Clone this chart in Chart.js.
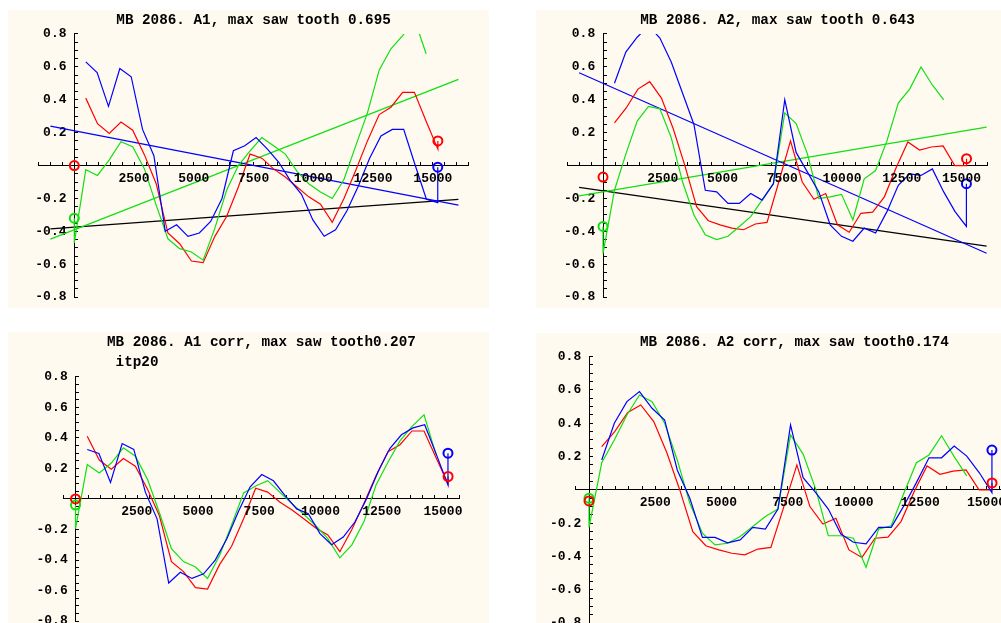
<!DOCTYPE html>
<html>
<head>
<meta charset="utf-8">
<title>MB 2086 saw tooth</title>
<script src="https://cdn.jsdelivr.net/npm/chart.js@4.4.1/dist/chart.umd.min.js"></script>
<style>
  html, body { margin: 0; padding: 0; width: 1001px; height: 623px; overflow: hidden; background: #ffffff; }
  .panel-bg { position: absolute; background: #fffaf0; }
  canvas { position: absolute; }
</style>
</head>
<body>
<div class="panel-bg" style="left:8px;top:10px;width:481px;height:298px"></div>
<div class="panel-bg" style="left:536px;top:10px;width:465px;height:298px"></div>
<div class="panel-bg" style="left:8px;top:332px;width:481px;height:291px"></div>
<div class="panel-bg" style="left:536px;top:333px;width:465px;height:290px"></div>
<canvas id="mb-a1" width="474" height="298" style="left:15px;top:10px"></canvas>
<canvas id="mb-a2" width="450" height="298" style="left:555px;top:10px"></canvas>
<canvas id="mb-a1-corr" width="458" height="300" style="left:31px;top:332px"></canvas>
<canvas id="mb-a2-corr" width="494" height="301" style="left:541px;top:333px"></canvas>
<script>
// ── Data ─────────────────────────────────────────

// sample positions: red/green of A1 sit on gridA, blue and A2 green on gridB
const gridA = [480, 971, 1462, 1953, 2444, 2935, 3426, 3917, 4408, 4899, 5390,
               5881, 6372, 6863, 7354, 7845, 8336, 8827, 9318, 9809, 10300,
               10791, 11282, 11773, 12264, 12755, 13246, 13737, 14228, 14719, 15210];
const gridB = [480, 955, 1430, 1905, 2380, 2855, 3330, 3805, 4280, 4755, 5230,
               5705, 6180, 6655, 7130, 7605, 8080, 8555, 9030, 9505, 9980,
               10455, 10930, 11405, 11880, 12355, 12830, 13305, 13780, 14255, 14730, 15205];

// red reference curve (same in plain and corr panels)
const redA1 = [0.41, 0.255, 0.195, 0.265, 0.215, 0.065, -0.11, -0.41, -0.475, -0.58, -0.59,
               -0.43, -0.31, -0.13, 0.07, 0.045, -0.02, -0.07, -0.13, -0.19, -0.235,
               -0.345, -0.20, -0.03, 0.15, 0.31, 0.355, 0.445, 0.445, 0.27, 0.10];
const redA2 = [0.26, 0.35, 0.465, 0.51, 0.41, 0.225, 0.0, -0.25, -0.335, -0.36, -0.38,
               -0.39, -0.355, -0.345, -0.10, 0.15, -0.10, -0.205, -0.17, -0.36, -0.405,
               -0.29, -0.283, -0.19, -0.013, 0.144, 0.094, 0.113, 0.12, 0.0, 0.0];

const blueA1 = [0.63, 0.565, 0.36, 0.59, 0.54, 0.22, 0.06, -0.40, -0.36, -0.43, -0.41,
                -0.34, -0.20, 0.09, 0.12, 0.17, 0.10, 0.02, -0.09, -0.175, -0.33,
                -0.43, -0.39, -0.275, -0.125, 0.045, 0.18, 0.22, 0.22, 0.005, -0.205, -0.225];
const greenA1 = [-0.025, -0.06, 0.035, 0.145, 0.115, -0.02, -0.24, -0.445, -0.505, -0.525, -0.575,
                 -0.38, -0.15, 0.0, 0.09, 0.17, 0.12, 0.07, -0.035, -0.11, -0.16,
                 -0.20, -0.085, 0.12, 0.32, 0.58, 0.71, 0.79, 0.89, 0.68, null];

const blueA2 = [0.50, 0.69, 0.78, 0.85, 0.775, 0.63, 0.44, 0.25, -0.15, -0.16, -0.23,
                -0.23, -0.17, -0.21, -0.11, 0.40, 0.08, -0.04, -0.16, -0.36, -0.43,
                -0.46, -0.38, -0.41, -0.28, -0.12, -0.05, -0.06, -0.02, -0.16, -0.28, -0.37];
const greenA2 = [-0.15, 0.07, 0.27, 0.36, 0.345, 0.17, -0.10, -0.30, -0.42, -0.45, -0.43,
                 -0.37, -0.31, -0.21, -0.11, 0.32, 0.255, 0.07, -0.20, -0.19, -0.175,
                 -0.33, -0.08, -0.03, 0.15, 0.38, 0.465, 0.60, 0.49, 0.40, null, null];

const blueA1corr = [0.324, 0.298, 0.108, 0.363, 0.324, 0.043, -0.13, -0.55, -0.48, -0.52, -0.49,
                    -0.40, -0.26, -0.08, 0.08, 0.16, 0.119, 0.022, -0.065, -0.097, -0.227,
                    -0.30, -0.249, -0.151, 0.0, 0.18, 0.33, 0.42, 0.465, 0.486, 0.292, 0.091];
const greenA1corr = [0.225, 0.17, 0.235, 0.335, 0.28, 0.13, -0.09, -0.325, -0.41, -0.445, -0.52,
                     -0.37, -0.17, 0.04, 0.085, 0.12, 0.045, -0.03, -0.10, -0.175, -0.26,
                     -0.385, -0.30, -0.15, 0.09, 0.24, 0.38, 0.475, 0.55, 0.29, null];

const blueA2corr = [0.18, 0.40, 0.53, 0.59, 0.49, 0.42, 0.12, -0.05, -0.285, -0.285, -0.318,
                    -0.30, -0.225, -0.235, -0.115, 0.39, 0.074, -0.016, -0.115, -0.265, -0.314,
                    -0.324, -0.225, -0.225, -0.096, 0.044, 0.193, 0.193, 0.263, 0.203, 0.103, -0.016];
const greenA2corr = [0.163, 0.30, 0.45, 0.57, 0.53, 0.40, 0.18, -0.08, -0.26, -0.33, -0.32,
                     -0.28, -0.22, -0.16, -0.115, 0.33, 0.215, 0.005, -0.275, -0.275, -0.29,
                     -0.464, -0.235, -0.215, -0.02, 0.163, 0.21, 0.325, 0.20, 0.084, null, null];

// straight fits in the two top panels (value at each end)
const fitEndsA1  = [-1000, 16070];
const fitBlueA1  = [0.24, -0.24];
const fitGreenA1 = [-0.447, 0.524];
const fitBlackA1 = [-0.385, -0.205];
const fitEndsA2  = [-1000, 16050];
const fitBlueA2  = [0.564, -0.533];
const fitGreenA2 = [-0.184, 0.234];
const fitBlackA2 = [-0.133, -0.49];

// open circles, one entry per panel: A1, A2, A1 corr, A2 corr
const markStartRed   = [0.0, -0.07, 0.0, -0.066];
const markStartGreen = [-0.32, -0.37, -0.04, -0.05];
const spikeGreen     = [-0.47, -0.535, -0.195, -0.225];
const markEndRed     = [0.15, 0.042, 0.147, 0.042];
const markEndBlue    = [-0.01, -0.11, 0.30, 0.239];

const titles = [
  'MB 2086. A1, max saw tooth 0.695',
  'MB 2086. A2, max saw tooth 0.643',
  ['MB 2086. A1 corr, max saw tooth0.207', ' itp20'.padEnd(36)],
  'MB 2086. A2 corr, max saw tooth0.174'
];
const xTickLabels = [2500, 5000, 7500, 10000, 12500, 15000];
// axis ends kept on multiples of 500 so the tick marks fall on round values
const xMin = [-1500, -1500, -500, -500];
const xMax = [16500, 16100, 15680, 16000];

(function () {
  'use strict';

  const MONO  = "'Liberation Mono', 'DejaVu Sans Mono', monospace";
  const RED   = '#ff0000';
  const GREEN = '#10e010';
  const BLUE  = '#0000ff';

  // ── Helpers ──────────────────────────────────────

  function pts(xs, ys) {
    return ys.map((y, i) => ({ x: xs[i], y: y }));
  }

  function curve(data, color) {
    return { data, showLine: true, borderColor: color, borderWidth: 1.2,
             pointRadius: 0, tension: 0, fill: false };
  }

  function marks(data, color) {
    return { data, showLine: false, pointStyle: 'circle', pointRadius: 4.5,
             pointBorderWidth: 2, pointBorderColor: color,
             pointBackgroundColor: 'rgba(0,0,0,0)' };
  }

  // y labels sit right-aligned on the axis line, so keep one space of air
  function yLabel(v) {
    const c = Math.round(v * 100);
    return (c !== 0 && c % 20 === 0) ? (c / 100).toFixed(1) + ' ' : '';
  }

  // x labels go under the y = 0 line, placed through the x scale
  const xAxisText = {
    id: 'xAxisText',
    afterDraw(chart) {
      const xs  = chart.scales.x;
      const ctx = chart.ctx;
      const lineY = chart.scales.y.getPixelForValue(0);
      ctx.save();
      ctx.font = 'bold 13px ' + MONO;
      ctx.fillStyle = '#000';
      ctx.textAlign = 'center';
      ctx.textBaseline = 'middle';
      xTickLabels.forEach(v => {
        if (v >= xs.min && v <= xs.max) {
          ctx.fillText(String(v), xs.getPixelForValue(v), lineY + 13);
        }
      });
      ctx.restore();
    }
  };

  // ── Panels ───────────────────────────────────────

  function buildPanel(p, cfg) {
    const endA = gridA[gridA.length - 1];
    const endB = gridB[gridB.length - 1];

    const datasets = [
      marks([{ x: 0, y: markStartRed[p] }, { x: endA, y: markEndRed[p] }], RED),
      marks([{ x: 0, y: markStartGreen[p] }], GREEN),
      marks([{ x: endB, y: markEndBlue[p] }], BLUE),
      curve(pts(gridB, cfg.blue).concat([{ x: endB, y: markEndBlue[p] }]), BLUE),
      curve([{ x: 0, y: markStartGreen[p] }, { x: 0, y: spikeGreen[p] }]
              .concat(pts(cfg.greenGrid, cfg.green)), GREEN),
      curve(pts(gridA, cfg.red).concat([{ x: endA, y: markEndRed[p] }]), RED)
    ];

    if (cfg.fits) {
      datasets.push(curve(pts(cfg.fits.ends, cfg.fits.blue),  BLUE));
      datasets.push(curve(pts(cfg.fits.ends, cfg.fits.green), GREEN));
      datasets.push(curve(pts(cfg.fits.ends, cfg.fits.black), '#000000'));
    }

    // negative tick length: Mathematica ticks point into the plot
    const axisGrid = { display: true, drawOnChartArea: false, drawTicks: true,
                       tickLength: -4, tickColor: '#000', tickWidth: 1 };
    const axisBorder = { display: true, color: '#000', width: 1 };
    const tickFont = { family: MONO, size: 13, weight: 'bold' };

    return new Chart(document.getElementById(cfg.id), {
      type: 'scatter',
      data: { datasets },
      plugins: [xAxisText],
      options: {
        responsive: false,
        animation: false,
        devicePixelRatio: 1,
        layout: { padding: cfg.pad },
        plugins: {
          legend: { display: false },
          tooltip: { enabled: false },
          title: {
            display: true,
            text: titles[p],
            color: '#000',
            font: { family: MONO, size: 14.3, weight: 'bold', lineHeight: cfg.titleLH },
            padding: cfg.titlePad
          }
        },
        scales: {
          x: {
            type: 'linear', min: xMin[p], max: xMax[p], position: { y: 0 },
            grid: axisGrid, border: axisBorder,
            ticks: { display: false, stepSize: 500, includeBounds: false, autoSkip: false,
                     maxRotation: 0, minRotation: 0 }
          },
          y: {
            type: 'linear', min: -0.8, max: 0.8, position: { x: 0 },
            grid: axisGrid, border: axisBorder,
            ticks: { stepSize: 0.05, includeBounds: false, autoSkip: false, maxTicksLimit: 1000,
                     color: '#000', font: tickFont, callback: yLabel }
          }
        }
      }
    });
  }

  buildPanel(0, {
    id: 'mb-a1', red: redA1, blue: blueA1, green: greenA1, greenGrid: gridA,
    fits: { ends: fitEndsA1, blue: fitBlueA1, green: fitGreenA1, black: fitBlackA1 },
    pad: { left: 23.45, right: 20.3, top: 0, bottom: 9 },
    titleLH: 1.2, titlePad: { top: 1.4, bottom: 5.4 }
  });

  buildPanel(1, {
    id: 'mb-a2', red: redA2, blue: blueA2, green: greenA2, greenGrid: gridB,
    fits: { ends: fitEndsA2, blue: fitBlueA2, green: fitGreenA2, black: fitBlackA2 },
    pad: { left: 12.15, right: 17.2, top: 0, bottom: 9 },
    titleLH: 1.2, titlePad: { top: 1.4, bottom: 5.4 }
  });

  buildPanel(2, {
    id: 'mb-a1-corr', red: redA1, blue: blueA1corr, green: greenA1corr, greenGrid: gridA,
    pad: { left: 32.25, right: 29.4, top: 0, bottom: 8.7 },
    titleLH: 1.4, titlePad: { top: 0.7, bottom: 4 }
  });

  buildPanel(3, {
    id: 'mb-a2-corr', red: redA2, blue: blueA2corr, green: greenA2corr, greenGrid: gridB,
    pad: { left: 34.75, right: 22, top: 0, bottom: 9.3 },
    titleLH: 1.2, titlePad: { top: 1.1, bottom: 5.4 }
  });
})();
</script>
</body>
</html>
